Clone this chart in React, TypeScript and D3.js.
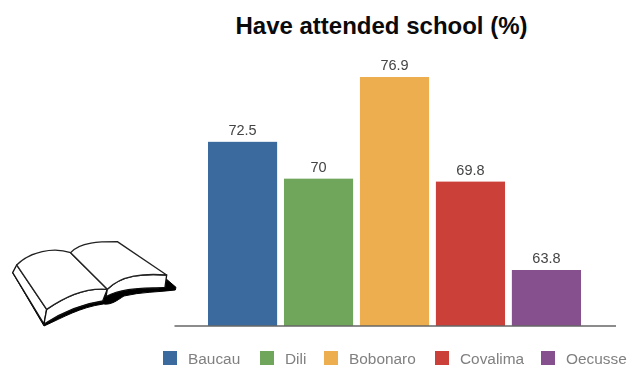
import React from "react";
import * as d3 from "d3";

const districts = ["Baucau", "Dili", "Bobonaro", "Covalima", "Oecusse"];
const attended = [72.5, 70, 76.9, 69.8, 63.8];
const barColors = ["#3b6b9e", "#6fa65c", "#edae50", "#cc403a", "#864f8d"];
const legendSwatchX = [163, 260, 324, 435, 541];
const legendTextX = [188, 285, 349, 460, 566];

const width = 629;
const height = 368;

const x = d3.scaleBand<string>().domain(districts).range([208, 581]).paddingInner(0.09).paddingOuter(0);
const y = d3.scaleLinear().domain([60, 76.9]).range([326, 77]);

// Open book illustration, outlined in its own 3x coordinate space
function Book() {
  return (
    <g transform="translate(0,230) scale(0.3333)" strokeLinejoin="round" filter="url(#soft)">
      <path
        fill="#000"
        stroke="#000"
        strokeWidth={3}
        d="M38,128 L132,288 C190,262 240,232 310,222 C335,225 350,212 372,198 C420,186 480,186 526,180 L528,172 L500,148 L330,170 L140,262 L50,125 Z"
      />
      <path fill="#fff" stroke="#111" strokeWidth={4} d="M50,105 L38,128 L132,282 L140,238 Z" />
      <path
        fill="#fff"
        stroke="#111"
        strokeWidth={4}
        d="M140,238 L132,282 C190,245 245,222 308,213 L322,178 C250,172 190,205 140,238 Z"
      />
      <path
        fill="#fff"
        stroke="#111"
        strokeWidth={4}
        d="M322,178 L318,200 C370,172 430,176 495,172 L500,135 C430,130 365,135 322,178 Z"
      />
      <path
        fill="#fff"
        stroke="#222"
        strokeWidth={4}
        d="M50,105 C90,65 160,50 212,68 L322,178 C250,172 190,205 140,238 Z"
      />
      <path
        fill="#fff"
        stroke="#222"
        strokeWidth={4}
        d="M212,68 C240,35 300,35 352,35 L500,135 C430,130 365,135 322,178 Z"
      />
    </g>
  );
}

export default function App() {
  const sans = "'Liberation Sans', Arial, sans-serif";
  return (
    <svg
      width={width}
      height={height}
      viewBox={`0 0 ${width} ${height}`}
      style={{ position: "absolute", left: 0, top: 0, background: "#fff" }}
    >
      <defs>
        <filter id="soft" x="-5%" y="-5%" width="110%" height="110%">
          <feGaussianBlur stdDeviation="0.45" />
        </filter>
      </defs>

      <text x={381.5} y={34} textAnchor="middle" fontFamily={sans} fontWeight={700} fontSize={24} fill="#0a0a0a">
        Have attended school (%)
      </text>

      <Book />

      {districts.map((d, i) => (
        <g key={d}>
          <rect
            x={x(d)}
            y={y(attended[i])}
            width={x.bandwidth()}
            height={y(60) - y(attended[i])}
            fill={barColors[i]}
          />
          <text
            x={x(d)! + x.bandwidth() / 2}
            y={y(attended[i]) - 7}
            textAnchor="middle"
            fontFamily={sans}
            fontSize={14.5}
            fill="#444"
            filter="url(#soft)"
          >
            {attended[i]}
          </text>
        </g>
      ))}

      <line x1={174.5} x2={616} y1={326} y2={326} stroke="#666" strokeWidth={1.5} />

      {districts.map((d, i) => (
        <g key={`legend-${d}`}>
          <rect x={legendSwatchX[i]} y={351} width={14} height={14} fill={barColors[i]} />
          <text x={legendTextX[i]} y={364} fontFamily={sans} fontSize={15.4} fill="#808080" filter="url(#soft)">
            {d}
          </text>
        </g>
      ))}
    </svg>
  );
}
